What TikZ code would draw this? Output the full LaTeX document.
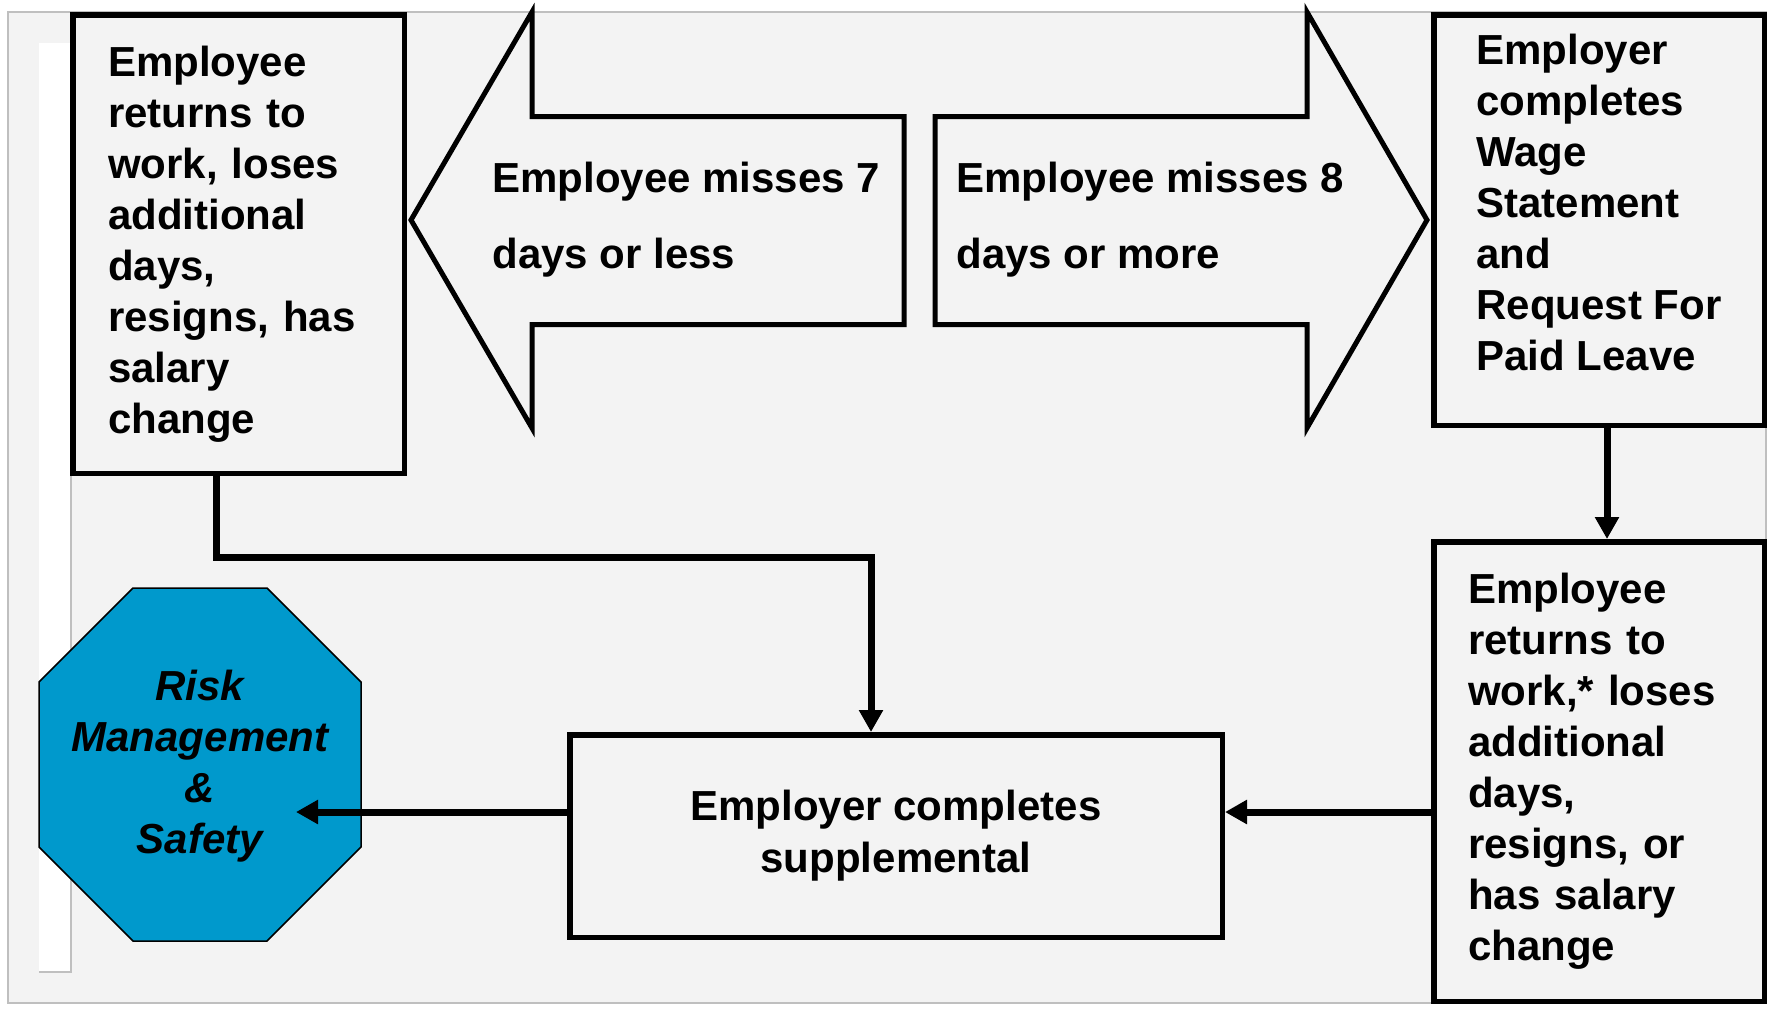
\documentclass[tikz,border=0pt]{standalone}
\usepackage{fontspec}
\setmainfont{Liberation Sans}
\usetikzlibrary{arrows.meta,calc}
\definecolor{ink}{HTML}{000000}
\definecolor{panel}{HTML}{F3F3F3}
\definecolor{panelborder}{HTML}{BFBFBF}
\definecolor{stopfill}{HTML}{0099CC}

\begin{document}
\begin{tikzpicture}[
  x=0.5pt, y=-0.5pt,
  font=\fontsize{21pt}{25.5pt}\selectfont\bfseries,
  >={Triangle[length=11pt,width=11.5pt]},
  box/.style={draw=ink, fill=panel, line width=2.75pt, align=left, anchor=north west, text=ink},
  bigarrow/.style={draw=ink, fill=panel, line width=2.5pt, line join=miter},
  arrowtext/.style={font=\fontsize{21pt}{38pt}\selectfont\bfseries, align=left, anchor=west, inner sep=0pt, text=ink},
  stoptext/.style={font=\fontsize{21pt}{25.5pt}\selectfont\bfseries\itshape, align=center, text=ink},
  flow/.style={->, draw=ink, line width=3.5pt}
]
\useasboundingbox (0,0) rectangle (1777,1009);

% page and margin strip
\path[fill=panel, draw=panelborder, line width=0.75pt] (8,12) rectangle (1766,1003);
\fill[white] (39,43) rectangle (71,972);
\draw[panelborder, line width=1pt] (71,43) -- (71,972) -- (39,972);

% block arrows
\draw[bigarrow] (411,220) -- (532,12) -- (532,116.5) -- (904,116.5) -- (904,324.5) -- (532,324.5) -- (532,428) -- cycle;
\node[arrowtext] (less) at (492,220) {Employee misses 7\\days or less};
\draw[bigarrow] (935,116.5) -- (1307,116.5) -- (1307,12) -- (1427,220) -- (1307,428) -- (1307,324.5) -- (935,324.5) -- cycle;
\node[arrowtext] (more) at (956,220) {Employee misses 8\\days or more};

% boxes
\node[box, minimum width=165.75pt, minimum height=229.25pt, text width=130.5pt, inner xsep=17.6pt] (back) at (70,12) {Employee\\returns to\\work, loses\\additional\\days,\\resigns, has\\salary\\change};
\node[box, minimum width=165.25pt, minimum height=205.25pt, text depth=17.5pt] (wage) at (1431,12) {Employer\\completes\\Wage\\Statement\\and\\Request For\\Paid Leave};
\node[box, minimum width=165.25pt, minimum height=229.75pt, text width=131pt, inner xsep=17.1pt] (late) at (1431,539) {Employee\\returns to\\work,* loses\\additional\\days,\\resigns, or\\has salary\\change};
\node[box, align=center, minimum width=326.25pt, minimum height=101.25pt, font=\fontsize{21pt}{26pt}\selectfont\bfseries] (supp) at (567,732) {Employer completes\\supplemental};

% stop sign
\filldraw[fill=stopfill, draw=ink, line width=0.75pt] (133,588) -- (267,588) -- (361,682) -- (361,847) -- (267,941) -- (133,941) -- (39,847) -- (39,682) -- cycle;
\node[stoptext] (risk) at (200,766) {Risk\\Management\\\&\\Safety};
\coordinate (risktip) at (296,812);

% connectors
\coordinate (lateout) at ([yshift=-20.25pt]late.west);
\draw[flow] ([xshift=-11.25pt]back.south) -- ++(0,81) -| ([xshift=-12.5pt]supp.north);
\draw[flow] ([xshift=4pt]wage.south) -- ([xshift=4pt]late.north);
\draw[flow] (lateout) -- (lateout -| supp.east);
\draw[flow] ([yshift=12pt]supp.west) -- (risktip);

\end{tikzpicture}
\end{document}
